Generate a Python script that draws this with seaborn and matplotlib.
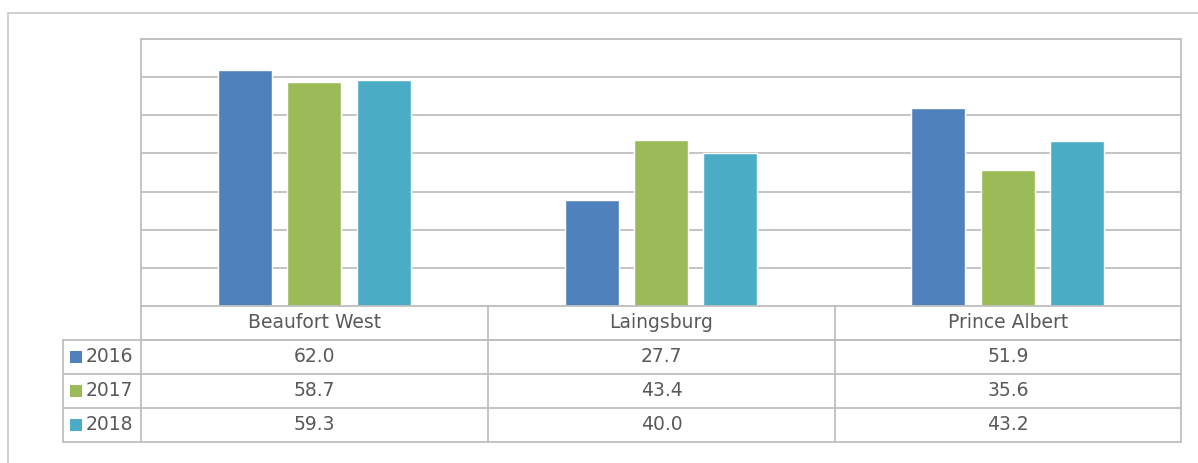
import pandas as pd
import matplotlib.pyplot as plt
import seaborn as sns
from matplotlib.patches import Rectangle
from matplotlib.lines import Line2D

# data
towns = ['Beaufort West', 'Laingsburg', 'Prince Albert']
years = ['2016', '2017', '2018']
vals_2016 = [62.0, 27.7, 51.9]
vals_2017 = [58.7, 43.4, 35.6]
vals_2018 = [59.3, 40.0, 43.2]
colors = ['#4F81BD', '#9BBB59', '#4BACC6']

series = {'2016': vals_2016, '2017': vals_2017, '2018': vals_2018}
df = pd.DataFrame([
    {'Town': t, 'Year': y, 'Value': v}
    for y in years for t, v in zip(towns, series[y])
])

sns.set_style('white')
plt.rcParams['font.family'] = ['DejaVu Sans']
GRID = '#BFBFBF'
TXT = '#595959'

W, H = 1198, 463
fig = plt.figure(figsize=(W / 100, H / 100), dpi=100)

def fx(px):
    return px / W

def fy(py):
    return 1 - py / H

# outer chart frame
fig.patches.append(Rectangle((fx(8), -0.05), 1.2, fy(13) + 0.05, transform=fig.transFigure,
                             fill=False, edgecolor='#C8C8C8', lw=1.2))

x0, x1, y_top, y_bot = 141, 1181, 39, 306
ax = fig.add_axes([fx(x0), fy(y_bot), fx(x1) - fx(x0), fy(y_top) - fy(y_bot)])
sns.barplot(data=df, x='Town', y='Value', hue='Year', hue_order=years, order=towns,
            palette=colors, width=0.6, gap=0.22, saturation=1, ax=ax, legend=False)
ax.set_ylim(0, 70)
ax.set_xlim(-0.5, 2.5)
ax.set_yticks(range(0, 71, 10))
ax.yaxis.grid(True, color=GRID, lw=1.3)
ax.set_axisbelow(True)
ax.set_xticks([])
ax.set_yticklabels([])
ax.tick_params(length=0)
ax.set_xlabel('')
ax.set_ylabel('')
for s in ax.spines.values():
    s.set_color(GRID)
    s.set_linewidth(1.3)

# data table below the plot
rows = [306, 340, 374, 408, 442]
cols = [141, 488, 835, 1181]
leg_x = 63
fs = 13.5

def hline(y, xa, xb):
    fig.lines.append(Line2D([fx(xa), fx(xb)], [fy(y), fy(y)], transform=fig.transFigure,
                            color=GRID, lw=1.3))

def vline(x, ya, yb):
    fig.lines.append(Line2D([fx(x), fx(x)], [fy(ya), fy(yb)], transform=fig.transFigure,
                            color=GRID, lw=1.3))

hline(rows[1], cols[0], cols[-1])
for r in rows[1:]:
    hline(r, leg_x, cols[-1])
for c in cols:
    vline(c, rows[0], rows[-1])
vline(leg_x, rows[1], rows[-1])

for i, t in enumerate(towns):
    cx = (cols[i] + cols[i + 1]) / 2
    fig.text(fx(cx), fy((rows[0] + rows[1]) / 2), t, ha='center', va='center',
             fontsize=fs, color=TXT)

for j, y in enumerate(years):
    cy = (rows[j + 1] + rows[j + 2]) / 2
    fig.patches.append(Rectangle((fx(70), fy(cy + 6)), fx(12), 12 / H,
                                 transform=fig.transFigure, color=colors[j], lw=0))
    fig.text(fx(86), fy(cy), y, ha='left', va='center', fontsize=fs, color=TXT)
    for i, v in enumerate(series[y]):
        cx = (cols[i] + cols[i + 1]) / 2
        fig.text(fx(cx), fy(cy), f'{v:.1f}', ha='center', va='center',
                 fontsize=fs, color=TXT)

fig.savefig('out.png', dpi=100)
plt.close(fig)
